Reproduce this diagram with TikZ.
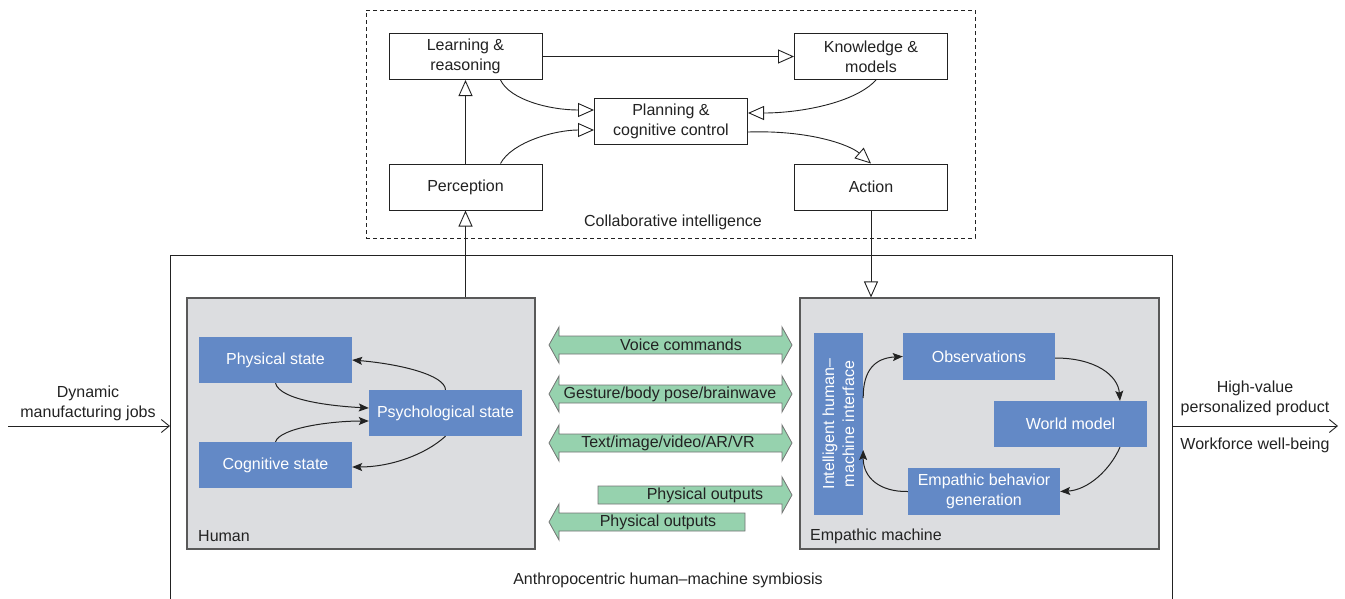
\documentclass[tikz,border=0pt]{standalone}
\usepackage{fontspec}
\setmainfont{Liberation Sans}
\usetikzlibrary{arrows.meta,calc}
\definecolor{blueC}{HTML}{6389C6}
\definecolor{grayC}{HTML}{DCDDE0}
\definecolor{greenC}{HTML}{96D2AE}
\definecolor{txtC}{HTML}{222222}
\begin{document}
\begin{tikzpicture}[x=1pt,y=-1pt,
  every node/.style={font=\fontsize{16}{20}\selectfont, text=txtC},
  wbox/.style={draw=txtC, line width=1pt, fill=white, minimum width=153pt, minimum height=46pt, align=center, inner sep=0pt},
  bbox/.style={fill=blueC, minimum width=153pt, minimum height=46pt, align=center, inner sep=0pt, text=white},
  panel/.style={draw=black!65, fill=grayC, line width=1.1pt, inner sep=0pt},
  oarrow/.style={-{Triangle[length=16pt,width=14pt,fill=white]}, line width=0.9pt, draw=txtC},
  sarrow/.style={-{Stealth[length=10pt,width=8pt,inset=2pt]}, line width=1pt, draw=txtC},
  garrow/.style={draw=black!55, fill=greenC, line width=0.8pt},
  lbl/.style={inner sep=0pt}
]
\useasboundingbox (0,0) rectangle (1345,598);

% collaborative intelligence
\node[draw=txtC, dashed, dash pattern=on 4pt off 3pt, line width=0.9pt, minimum width=609pt, minimum height=228pt, inner sep=0pt] (ci) at (670.5,124) {};
\node[wbox] (learn) at (465.5,56.5) {Learning \&\\reasoning};
\node[wbox] (know) at (871,56.5) {Knowledge \&\\models};
\node[wbox] (plan) at (671,121.5) {Planning \&\\cognitive control};
\node[wbox] (perc) at (465.5,187) {Perception};
\node[wbox] (act) at (871,187) {Action};
\node[lbl] (cilbl) at (673,222) {Collaborative intelligence};

\draw[oarrow] (learn.east) -- (know.west);
\draw[oarrow] (perc.north) -- (learn.south);
\draw[oarrow] ([xshift=35pt]learn.south) .. controls (510,100) and (550,110) .. ([yshift=11.5pt]plan.west);
\draw[oarrow] ([xshift=35pt]perc.north) .. controls (512,142) and (555,130) .. ([yshift=-8.5pt]plan.west);
\draw[oarrow] ([xshift=5pt]know.south) .. controls (855,103) and (800,113) .. ([yshift=8.5pt]plan.east);
\draw[oarrow] ([yshift=-10.5pt]plan.east) .. controls (810,130) and (850,145) .. (act.north);

% outer symbiosis box
\draw[line width=1pt, draw=txtC] (170,602) -- (170,255) -- (1172,255) -- (1172,602);
\coordinate (symL) at (170,426);
\coordinate (symR) at (1172,426);
\node[lbl] (symlbl) at (668,580) {Anthropocentric human\textendash machine symbiosis};

% human panel
\node[panel, minimum width=348pt, minimum height=251pt] (human) at (361,423.5) {};
\node[lbl, anchor=west] (humanlbl) at (198,536) {Human};
\node[bbox] (phys) at (275.5,360) {Physical state};
\node[bbox] (psych) at (445.5,413) {Psychological state};
\node[bbox] (cog) at (275.5,465) {Cognitive state};

\draw[sarrow] (phys.south) .. controls (280,400) and (330,406) .. ([yshift=5pt]psych.west);
\draw[sarrow] (psych.north) .. controls (445,375) and (400,364) .. (phys.east);
\draw[sarrow] (cog.north) .. controls (280,428) and (330,421) .. ([yshift=-8pt]psych.west);
\draw[sarrow] (psych.south) .. controls (425,455) and (390,467) .. ([yshift=-2pt]cog.east);

% machine panel
\node[panel, minimum width=359pt, minimum height=251pt] (machine) at (979.5,423.5) {};
\node[lbl, anchor=west] (machinelbl) at (810,536) {Empathic machine};
\node[bbox, rotate=90, minimum width=182pt, minimum height=49pt] (iface) at (838.5,424) {Intelligent human\textendash\\machine interface};
\node[bbox, minimum width=152pt, minimum height=47pt] (obs) at (979,356.5) {Observations};
\node[bbox] (world) at (1070.5,424) {World model};
\node[bbox, minimum width=152pt, minimum height=47pt] (emp) at (984,491.5) {Empathic behavior\\generation};

\draw[sarrow] ([yshift=26pt]iface.south) .. controls (863,370) and (875,358) .. (obs.west);
\draw[sarrow] ([yshift=-1.5pt]obs.east) .. controls (1095,358) and (1118,375) .. ([xshift=49.5pt]world.north);
\draw[sarrow] ([xshift=49.5pt]world.south) .. controls (1110,470) and (1088,490) .. (emp.east);
\draw[sarrow] (emp.west) .. controls (880,492) and (863,478) .. ([yshift=-26pt]iface.south);

% links between top and panels
\draw[oarrow] (perc.south |- human.north) -- (perc.south);
\draw[oarrow] (act.south) -- (act.south |- machine.north);

% green channel arrows
\newcommand{\gdouble}[3]{\draw[garrow] (#1,#3) -- (#1+10,#3-18) -- (#1+10,#3-9) -- (#2-10,#3-9) -- (#2-10,#3-18) -- (#2,#3) -- (#2-10,#3+18) -- (#2-10,#3+9) -- (#1+10,#3+9) -- (#1+10,#3+18) -- cycle;}
\gdouble{549}{792}{345}
\gdouble{549}{792}{394}
\gdouble{549}{792}{443}
\draw[garrow] (598,486) -- (782,486) -- (782,477) -- (792,495) -- (782,513) -- (782,504) -- (598,504) -- cycle;
\draw[garrow] (745,513) -- (559,513) -- (559,504) -- (549,522) -- (559,540) -- (559,531) -- (745,531) -- cycle;
\node[lbl] (ch1) at (681,345) {Voice commands};
\node[lbl] (ch2) at (670,394) {Gesture/body pose/brainwave};
\node[lbl] (ch3) at (668,443) {Text/image/video/AR/VR};
\node[lbl] (ch4) at (705,495) {Physical outputs};
\node[lbl] (ch5) at (658,522) {Physical outputs};

% input / output
\coordinate (inL) at (8,426);
\coordinate (outR) at (1338,426);
\draw[-{Straight Barb[length=8pt,width=13pt]}, line width=0.9pt, draw=txtC] (inL) -- (symL);
\draw[-{Straight Barb[length=8pt,width=13pt]}, line width=0.9pt, draw=txtC] (symR) -- (outR);
\node[lbl, align=center] (inlbl) at (88,403) {Dynamic\\manufacturing jobs};
\node[lbl, align=center] (outlbl1) at (1255,398) {High-value\\personalized product};
\node[lbl] (outlbl2) at (1255,445) {Workforce well-being};
\end{tikzpicture}
\end{document}
